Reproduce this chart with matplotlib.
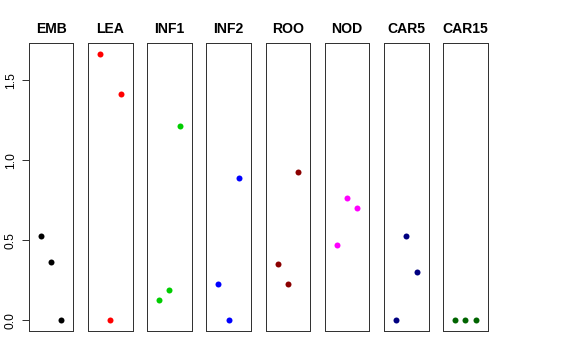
import matplotlib
matplotlib.use("Agg")
import matplotlib.pyplot as plt
import numpy as np

plt.rcParams['font.family'] = ['Liberation Sans', 'DejaVu Sans']

tissues = ["EMB", "LEA", "INF1", "INF2", "ROO", "NOD", "CAR5", "CAR15"]
colors = ["#000000", "#FF0000", "#00CD00", "#0000FF", "#8B0000", "#FF00FF", "#000080", "#006400"]
x_pos = [1, 2, 3]
values = {
    "EMB":   [0.527, 0.366, 0.0],
    "LEA":   [1.666, 0.0, 1.416],
    "INF1":  [0.125, 0.191, 1.212],
    "INF2":  [0.229, 0.0, 0.887],
    "ROO":   [0.354, 0.225, 0.927],
    "NOD":   [0.469, 0.766, 0.704],
    "CAR5":  [0.0, 0.525, 0.304],
    "CAR15": [0.0, 0.0, 0.0],
}
yticks = [0.0, 0.5, 1.0, 1.5]
ytick_labels = ["0.0", "0.5", "1.0", "1.5"]

W, H = 576, 360
fig = plt.figure(figsize=(W / 72, H / 72), dpi=72)

ymax = max(max(v) for v in values.values())
ymin = 0.0
yr = ymax - ymin
ylim = (ymin - 0.04 * yr, ymax + 0.04 * yr)
xlim = (0 - 0.04 * 4, 4 + 0.04 * 4)

left0 = 28.7
pitch = 59.2
pw = 44.7
top_px = 43
bot_px = 331

for i, (name, col) in enumerate(zip(tissues, colors)):
    ax = fig.add_axes([(left0 + i * pitch) / W, (H - bot_px) / H, pw / W, (bot_px - top_px) / H])
    ax.plot(x_pos, values[name], 'o', color=col, markersize=6, markeredgewidth=0)
    ax.set_xlim(*xlim)
    ax.set_ylim(*ylim)
    ax.set_xticks([])
    for s in ax.spines.values():
        s.set_linewidth(1.0)
        s.set_color('#333333')
    ax.set_title(name, fontsize=14, fontweight='bold', pad=10)
    if i == 0:
        ax.set_yticks(yticks)
        ax.set_yticklabels(ytick_labels, rotation=90, va='center', fontsize=12)
        ax.tick_params(axis='y', length=7, width=0.8, pad=5)
    else:
        ax.set_yticks([])

fig.savefig("out.png", dpi=72)
